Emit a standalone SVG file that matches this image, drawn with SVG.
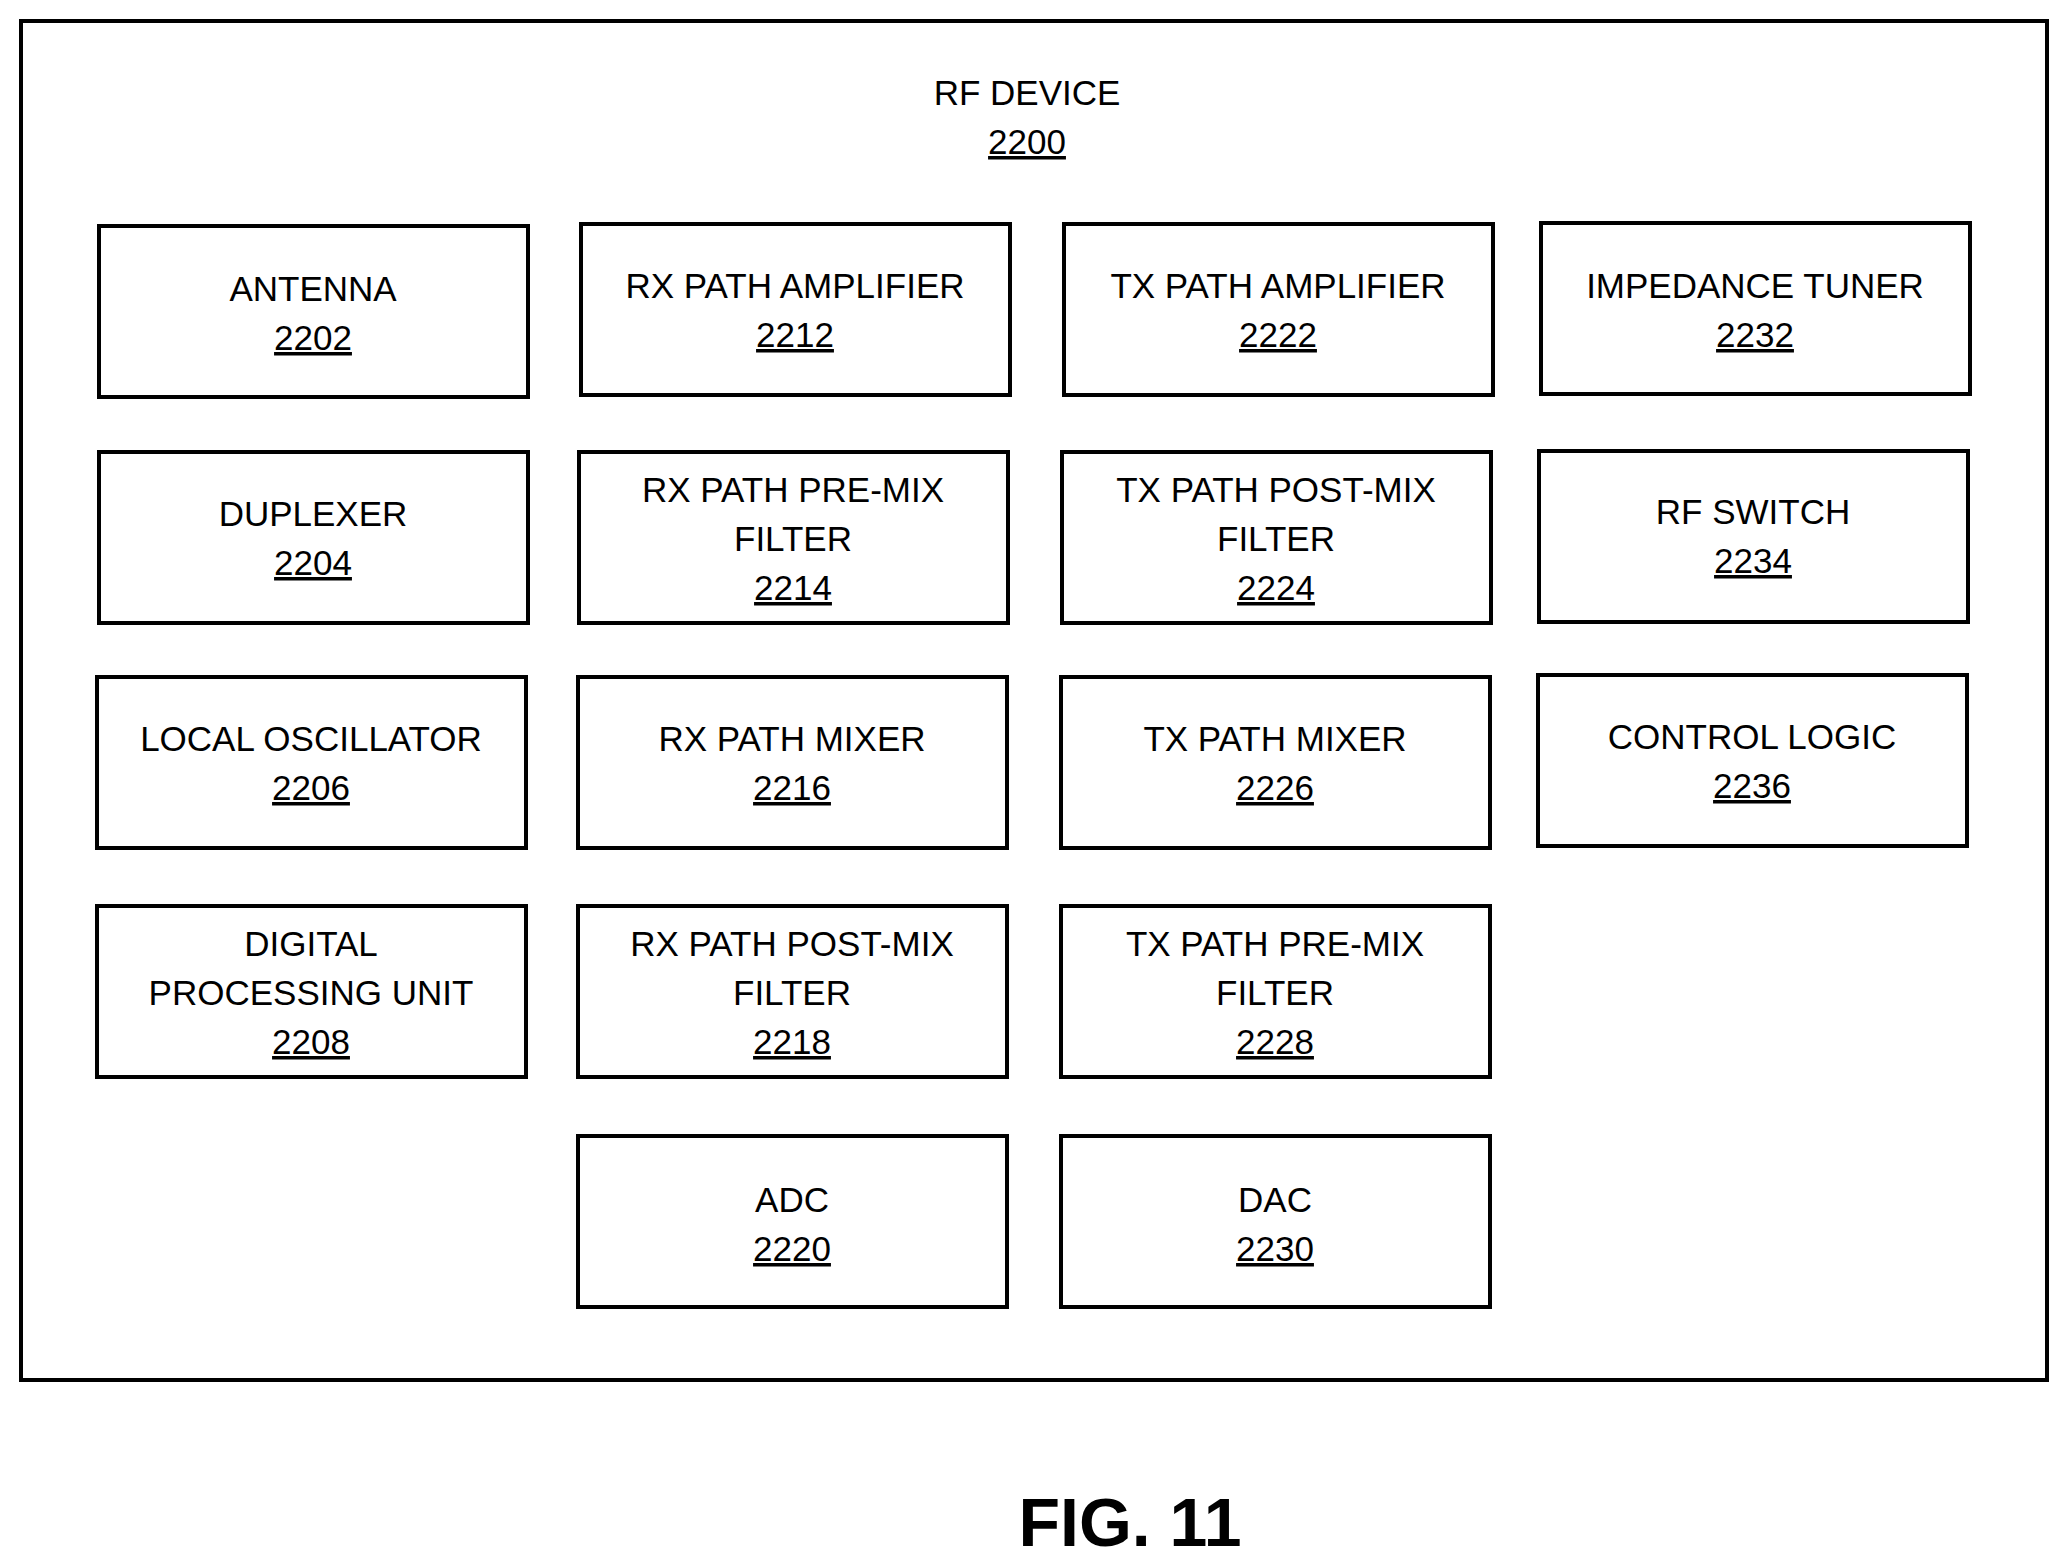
<svg xmlns="http://www.w3.org/2000/svg" width="2068" height="1568" viewBox="0 0 2068 1568">
<style>
rect{fill:#fff;stroke:#000;stroke-width:4}
text{font-family:"Liberation Sans",Arial,sans-serif;font-size:35px;text-anchor:middle;fill:#000}
.n{text-decoration:underline}
.fig{font-size:68px;font-weight:bold}
</style>
<rect x="0" y="0" width="2068" height="1568" style="stroke:none"/>
<g id="rf-device"><rect x="21" y="21" width="2026" height="1359"/>
<text x="1027" y="105">RF DEVICE</text><text class="n" x="1027" y="154">2200</text></g>
<g id="n2202"><rect x="99" y="226" width="429" height="171"/><text x="313" y="301">ANTENNA</text><text class="n" x="313" y="350">2202</text></g>
<g id="n2212"><rect x="581" y="224" width="429" height="171"/><text x="795" y="298">RX PATH AMPLIFIER</text><text class="n" x="795" y="347">2212</text></g>
<g id="n2222"><rect x="1064" y="224" width="429" height="171"/><text x="1278" y="298">TX PATH AMPLIFIER</text><text class="n" x="1278" y="347">2222</text></g>
<g id="n2232"><rect x="1541" y="223" width="429" height="171"/><text x="1755" y="298">IMPEDANCE TUNER</text><text class="n" x="1755" y="347">2232</text></g>
<g id="n2204"><rect x="99" y="452" width="429" height="171"/><text x="313" y="526">DUPLEXER</text><text class="n" x="313" y="575">2204</text></g>
<g id="n2214"><rect x="579" y="452" width="429" height="171"/><text x="793" y="502">RX PATH PRE-MIX</text><text x="793" y="551">FILTER</text><text class="n" x="793" y="600">2214</text></g>
<g id="n2224"><rect x="1062" y="452" width="429" height="171"/><text x="1276" y="502">TX PATH POST-MIX</text><text x="1276" y="551">FILTER</text><text class="n" x="1276" y="600">2224</text></g>
<g id="n2234"><rect x="1539" y="451" width="429" height="171"/><text x="1753" y="524">RF SWITCH</text><text class="n" x="1753" y="573">2234</text></g>
<g id="n2206"><rect x="97" y="677" width="429" height="171"/><text x="311" y="751">LOCAL OSCILLATOR</text><text class="n" x="311" y="800">2206</text></g>
<g id="n2216"><rect x="578" y="677" width="429" height="171"/><text x="792" y="751">RX PATH MIXER</text><text class="n" x="792" y="800">2216</text></g>
<g id="n2226"><rect x="1061" y="677" width="429" height="171"/><text x="1275" y="751">TX PATH MIXER</text><text class="n" x="1275" y="800">2226</text></g>
<g id="n2236"><rect x="1538" y="675" width="429" height="171"/><text x="1752" y="749">CONTROL LOGIC</text><text class="n" x="1752" y="798">2236</text></g>
<g id="n2208"><rect x="97" y="906" width="429" height="171"/><text x="311" y="956">DIGITAL</text><text x="311" y="1005">PROCESSING UNIT</text><text class="n" x="311" y="1054">2208</text></g>
<g id="n2218"><rect x="578" y="906" width="429" height="171"/><text x="792" y="956">RX PATH POST-MIX</text><text x="792" y="1005">FILTER</text><text class="n" x="792" y="1054">2218</text></g>
<g id="n2228"><rect x="1061" y="906" width="429" height="171"/><text x="1275" y="956">TX PATH PRE-MIX</text><text x="1275" y="1005">FILTER</text><text class="n" x="1275" y="1054">2228</text></g>
<g id="n2220"><rect x="578" y="1136" width="429" height="171"/><text x="792" y="1212">ADC</text><text class="n" x="792" y="1261">2220</text></g>
<g id="n2230"><rect x="1061" y="1136" width="429" height="171"/><text x="1275" y="1212">DAC</text><text class="n" x="1275" y="1261">2230</text></g>
<g id="connectors"></g>
<text class="fig" x="1130" y="1546">FIG. 11</text>
</svg>
